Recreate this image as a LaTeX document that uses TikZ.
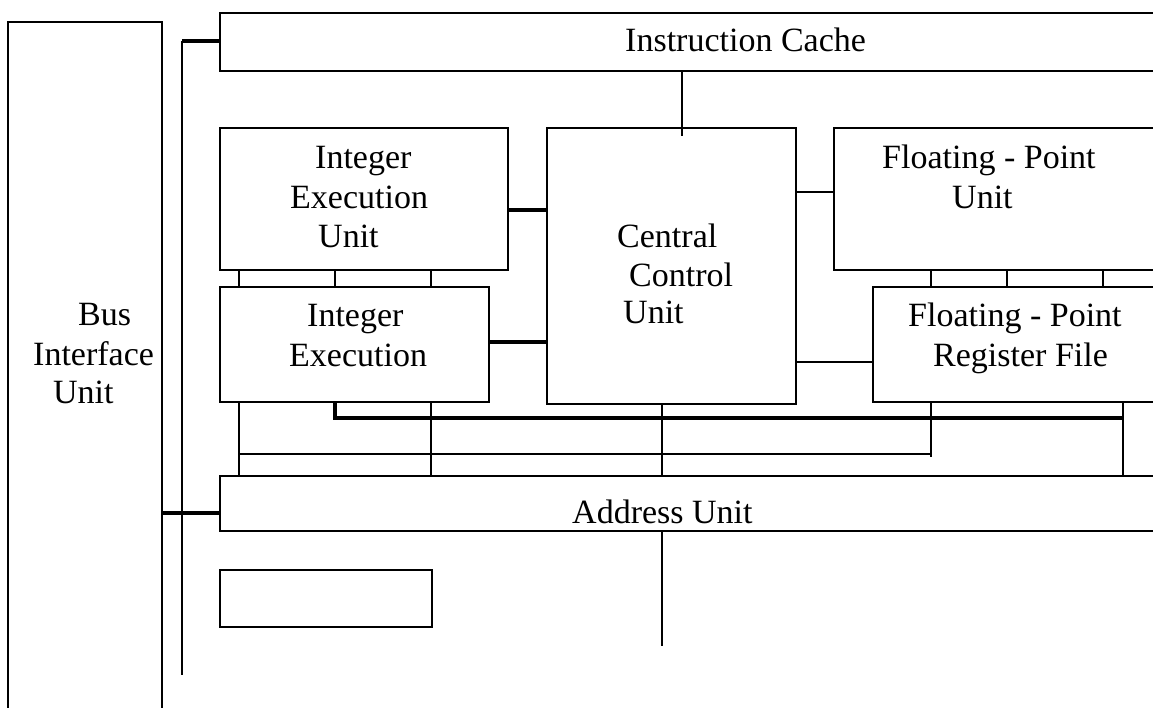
\documentclass[tikz,border=0pt]{standalone}
\usepackage{fontspec}
\setmainfont{Liberation Serif}
\usetikzlibrary{calc}
\begin{document}
\begin{tikzpicture}[x=1pt,y=-1pt,
  box/.style={draw,line width=1.5pt,rectangle,inner sep=0pt,outer sep=0pt,anchor=north west},
  lbl/.style={anchor=base west,inner sep=0pt,font=\fontsize{34}{40}\selectfont},
  wire/.style={line width=1.5pt},
  bus/.style={line width=3.2pt}]
\useasboundingbox (0,0) rectangle (1153,707);
\clip (0,0) rectangle (1153,707);
% boxes
\node[box,minimum width=154pt,minimum height=698pt] (biu) at (8,22) {};
\node[box,minimum width=950pt,minimum height=58pt] (ic) at (220,13) {};
\node[box,minimum width=288pt,minimum height=142pt] (ieu) at (220,128) {};
\node[box,minimum width=249pt,minimum height=276pt] (ccu) at (547,128) {};
\node[box,minimum width=336pt,minimum height=142pt] (fpu) at (834,128) {};
\node[box,minimum width=269pt,minimum height=115pt] (ie) at (220,287) {};
\node[box,minimum width=297pt,minimum height=115pt] (fprf) at (873,287) {};
\node[box,minimum width=950pt,minimum height=55pt] (au) at (220,476) {};
\node[box,minimum width=212pt,minimum height=57pt] (blank) at (220,570) {};
% labels
\node[lbl] (t1) at (78,325) {Bus};
\node[lbl] (t2) at (33,365) {Interface};
\node[lbl] (t3) at (53,403) {Unit};
\node[lbl] (t4) at (625,51) {Instruction Cache};
\node[lbl] (t5) at (315,168) {Integer};
\node[lbl] (t6) at (290,208) {Execution};
\node[lbl] (t7) at (318,247) {Unit};
\node[lbl] (t8) at (617,247) {Central};
\node[lbl] (t9) at (629,286) {Control};
\node[lbl] (t10) at (623,323) {Unit};
\node[lbl] (t11) at (882,168) {Floating - Point};
\node[lbl] (t12) at (952,208) {Unit};
\node[lbl] (t13) at (307,326) {Integer};
\node[lbl] (t14) at (289,366) {Execution};
\node[lbl] (t15) at (908,326) {Floating - Point};
\node[lbl] (t16) at (933,366) {Register File};
\node[lbl] (t17) at (572,523) {Address Unit};
% free ends
\coordinate (vtop) at (182,41);
\coordinate (vbot) at (182,675);
\coordinate (aend) at (662,646);
\coordinate (j1) at (335,418);
\coordinate (j2) at (1123,418);
\coordinate (k1) at (239,454);
\coordinate (k2) at (931,454);
% bus interface connections
\draw[bus] (ic.west |- vtop) -- (vtop);
\draw[wire] (vtop) -- (vbot);
\draw[bus] (biu.east |- 0,513) -- (au.west |- 0,513);
% instruction cache to central
\draw[wire] (ic.south -| 682,0) -- ($(ccu.north -| 682,0)+(0,8)$);
% side connections
\draw[bus] (ieu.east |- 0,210) -- (ccu.west |- 0,210);
\draw[wire] (ccu.east |- 0,192) -- (fpu.west |- 0,192);
\draw[bus] (ie.east |- 0,342) -- (ccu.west |- 0,342);
\draw[wire] (ccu.east |- 0,362) -- (fprf.west |- 0,362);
% ticks between stacked boxes
\foreach \x in {239,335,431} \draw[wire] (ieu.south -| \x,0) -- (ie.north -| \x,0);
\foreach \x in {931,1007,1103} \draw[wire] (fpu.south -| \x,0) -- (fprf.north -| \x,0);
% buses to address unit
\draw[bus] (ie.south -| j1) -- (j1) -- (j2);
\draw[wire] (fprf.south -| j2) -- (au.north -| j2);
\draw[wire] (ie.south -| k1) -- (au.north -| k1);
\draw[wire] (ie.south -| 431,0) -- (au.north -| 431,0);
\draw[wire] (k1) -- (k2);
\draw[wire] (fprf.south -| k2) -- ($(k2)+(0,3)$);
\draw[wire] (ccu.south -| aend) -- (au.north -| aend);
\draw[wire] (au.south -| aend) -- (aend);
\end{tikzpicture}
\end{document}
